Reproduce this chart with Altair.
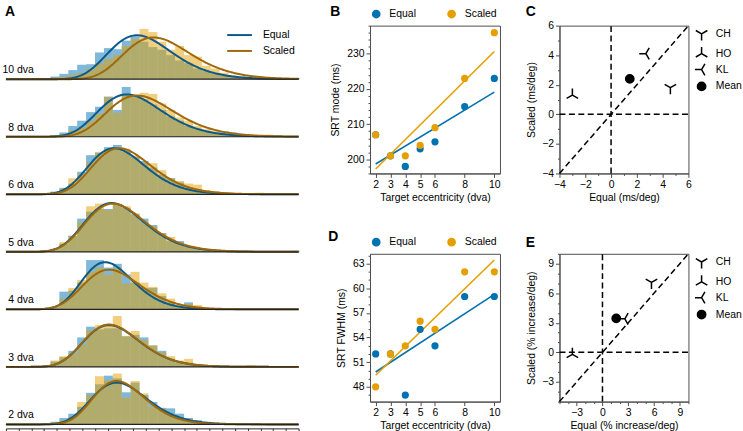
import altair as alt
import numpy as np
import pandas as pd

FONT = "Liberation Sans"
BLUE, ORANGE = "#0072B2", "#E69F00"
BLUE_FIT, ORANGE_FIT = "#0b5a8a", "#a0680c"
FRAME = "#4d4d4d"

# ---- summary values per target eccentricity (dva) ----
ecc_levels = [2, 3, 4, 5, 6, 8, 10]
mode_equal = [207, 201, 198, 203, 205, 215, 223]
mode_scaled = [207, 201, 201, 204, 209, 223, 236]
fwhm_equal = [52, 52, 47, 55, 53, 59, 59]
fwhm_scaled = [48, 52, 53, 56, 55, 62, 62]
# height of each fitted curve's peak (share of a row)
peak_equal = [0.78, 0.78, 0.88, 0.91, 0.86, 0.79, 0.82]
peak_scaled = [0.81, 0.79, 0.74, 0.90, 0.86, 0.77, 0.78]

# ---- per-subject slopes ----
subjects = ["CH", "HO", "KL", "Mean"]
mode_slope_equal = [4.6, -3.0, 2.7, 1.45]
mode_slope_scaled = [1.8, 1.3, 4.1, 2.4]
fwhm_slope_equal = [5.7, -3.5, 2.6, 1.6]
fwhm_slope_scaled = [7.1, -0.2, 3.4, 3.45]

# ---- SRT histograms: 7 ms bins starting at 148 ms (share of a row) ----
BIN_START, BIN_WIDTH = 148, 7
hist_eq_10 = [.02, .05, .10, .17, .27, .28, .50, .58, .56, .72, .80, .70, .60, .55, .45, .35, .30, .20, .15, .10, .07, .04, .03, .02, .01, .01, 0, 0, .02]
hist_sc_10 = [.01, .03, .05, .08, .12, .20, .30, .38, .45, .62, .75, .94, .88, .70, .55, .62, .45, .42, .25, .20, .12, .07, .05, .03, .02, .01, .01, 0, 0]
hist_eq_8 = [0, .03, .08, .20, .30, .46, .56, .75, .50, .93, .78, .70, .60, .50, .38, .30, .20, .15, .10, .08, .10, .08, .02, .01, 0, 0, 0, 0, 0]
hist_sc_8 = [0, .02, .05, .12, .17, .30, .43, .74, .45, .80, .78, .82, .80, .62, .50, .36, .30, .20, .14, .10, .06, .04, .02, .01, .02, .04, .01, 0, 0]
hist_eq_6 = [.02, .05, .12, .20, .42, .73, .78, .88, .92, .80, .70, .62, .50, .37, .30, .22, .12, .08, .06, .05, .03, .02, .01, .02, 0, 0, 0, 0, 0]
hist_sc_6 = [.02, .04, .10, .30, .38, .60, .78, .85, .83, .85, .72, .60, .58, .45, .30, .25, .20, .18, .08, .05, .03, .02, .01, .01, .03, 0, 0, 0, 0]
hist_eq_5 = [.02, .05, .15, .30, .62, .75, .80, .80, .88, .82, .70, .62, .50, .35, .20, .20, .10, .07, .05, .02, .02, .01, .01, 0, 0, 0, 0, 0, .02]
hist_sc_5 = [.02, .06, .18, .30, .55, .85, .90, .78, .90, .85, .72, .55, .48, .35, .28, .15, .10, .06, .05, .03, .02, .01, .01, .02, .01, .01, 0, 0, 0]
hist_eq_4 = [.02, .05, .33, .35, .50, .92, .92, .78, .85, .65, .50, .40, .40, .25, .14, .07, .13, .04, .02, .01, .01, 0, 0, 0, 0, 0, 0, 0, 0]
hist_sc_4 = [.01, .05, .20, .40, .55, .70, .78, .65, .78, .48, .70, .50, .42, .30, .20, .08, .10, .08, .03, .02, .01, 0, 0, 0, 0, 0, 0, 0, 0]
hist_eq_3 = [.02, .10, .18, .30, .55, .75, .70, .72, .72, .57, .60, .55, .40, .30, .15, .08, .08, .04, .03, .02, .01, .01, 0, 0, 0, 0, 0, 0, 0]
hist_sc_3 = [.01, .12, .20, .25, .42, .68, .78, .80, .95, .58, .67, .50, .40, .27, .20, .12, .15, .05, .03, .02, .01, .02, .02, .03, .01, 0, 0, 0, 0]
hist_eq_2 = [0, .05, .12, .20, .33, .59, .75, .91, .86, .60, .78, .55, .42, .31, .30, .20, .12, .08, .05, .03, .02, 0, 0, 0, 0, 0, 0, 0, 0]
hist_sc_2 = [0, .03, .08, .14, .42, .55, .90, .82, .95, .50, .81, .58, .33, .30, .20, .13, .10, .06, .04, .03, .02, .01, 0, 0, 0, 0, 0, 0, 0]

row_order = [10, 8, 6, 5, 4, 3, 2]
hist_equal = {10: hist_eq_10, 8: hist_eq_8, 6: hist_eq_6, 5: hist_eq_5, 4: hist_eq_4, 3: hist_eq_3, 2: hist_eq_2}
hist_scaled = {10: hist_sc_10, 8: hist_sc_8, 6: hist_sc_6, 5: hist_sc_5, 4: hist_sc_4, 3: hist_sc_3, 2: hist_sc_2}

# right-skewed (shifted log-normal) fit described by its mode, FWHM and peak
TAIL = 120.0


def fitted_curve(mode, fwhm, peak, t):
    w = np.arcsinh(fwhm / (2 * TAIL)) / np.sqrt(2 * np.log(2))
    z = np.log((t - mode + TAIL) / TAIL) / w
    return peak * np.exp(-0.5 * z ** 2)


t_grid = np.arange(120, 351, 1.0)
rows = []
for e in row_order:
    k = ecc_levels.index(e)
    for series, hist in (("Equal", hist_equal[e]), ("Scaled", hist_scaled[e])):
        for i, h in enumerate(hist):
            if h > 0:
                rows.append(dict(ecc=e, kind="bar", series=series,
                                 x=BIN_START + i * BIN_WIDTH, x2=BIN_START + (i + 1) * BIN_WIDTH, y=h))
    for series, m, f, p in (("Equal", mode_equal[k], fwhm_equal[k], peak_equal[k]),
                            ("Scaled", mode_scaled[k], fwhm_scaled[k], peak_scaled[k])):
        for t, v in zip(t_grid, fitted_curve(m, f, p, t_grid)):
            rows.append(dict(ecc=e, kind="curve", series=series, x=float(t), y=float(v)))
    rows.append(dict(ecc=e, kind="label", label=f"{e} dva"))
dfA = pd.DataFrame(rows)

LETTER = dict(font=FONT, fontSize=14, fontWeight="bold", align="left", baseline="alphabetic", color="black")

# ---------------- panel A: SRT distributions ----------------
xA = alt.Scale(domain=[120, 350], nice=False, zero=False)
yA = alt.Scale(domain=[0, 1], nice=False)
axisA = alt.Axis(
    values=list(range(120, 351, 10)),
    labelExpr="datum.value % 50 === 0 ? datum.label : ''",
    tickSize={"condition": {"test": "datum.value % 50 === 0", "value": 4}, "value": 2},
    title="Saccadic reaction time (ms)", domainColor="#222", tickColor="#222",
    labelPadding=1, titlePadding=2,
)
base = alt.Chart()
bars_eq = base.transform_filter("datum.kind === 'bar' && datum.series === 'Equal'").mark_bar(
    color=BLUE, opacity=0.5).encode(
    x=alt.X("x:Q", scale=xA, axis=axisA), x2="x2:Q",
    y=alt.Y("y:Q", scale=yA, axis=None), y2=alt.datum(0))
bars_sc = base.transform_filter("datum.kind === 'bar' && datum.series === 'Scaled'").mark_bar(
    color=ORANGE, opacity=0.5).encode(
    x=alt.X("x:Q", scale=xA, axis=axisA), x2="x2:Q",
    y=alt.Y("y:Q", scale=yA, axis=None), y2=alt.datum(0))
curves = base.transform_filter("datum.kind === 'curve'").mark_line(strokeWidth=2).encode(
    x=alt.X("x:Q", scale=xA, axis=axisA), y=alt.Y("y:Q", scale=yA, axis=None),
    color=alt.Color("series:N", scale=alt.Scale(domain=["Equal", "Scaled"], range=[BLUE_FIT, ORANGE_FIT]),
                    legend=alt.Legend(title=None, orient="none", legendX=230, legendY=4,
                                      symbolType="M-3,0L3,0", symbolSize=69, symbolStrokeWidth=2,
                                      labelOffset=18, rowPadding=5)))
baseline = base.transform_filter("datum.kind === 'label'").mark_rule(color="#222", strokeWidth=1.2).encode(
    y=alt.datum(0))
labels = base.transform_filter("datum.kind === 'label'").mark_text(
    align="right", baseline="alphabetic", font=FONT, fontSize=10.5, color="black").encode(
    x=alt.value(28), y=alt.value(48), text="label:N")
letter_a = base.transform_filter("datum.kind === 'label' && datum.ecc === 10").mark_text(
    text="A", **LETTER).encode(x=alt.value(-1), y=alt.value(-10))

panel_a = alt.layer(bars_eq, bars_sc, curves, baseline, labels, letter_a, data=dfA).properties(
    width=295, height=54, view=alt.ViewBackground(stroke=None)
).facet(
    row=alt.Row("ecc:O", sort=row_order, title="", header=alt.Header(labels=False)),
    spacing=0,
)


def panel_letter(letter, dx, dy):
    return alt.Chart(pd.DataFrame({"panel": [letter]})).mark_text(**LETTER).encode(
        text="panel:N", x=alt.value(dx), y=alt.value(dy))


# ---------------- panels B / D: regression on eccentricity ----------------
def eccentricity_panel(eq_vals, sc_vals, ytitle, ydomain, yvalues, major_test, letter, letter_dx, letter_dy):
    df = pd.DataFrame({
        "ecc": ecc_levels * 2,
        "series": ["Equal"] * len(ecc_levels) + ["Scaled"] * len(ecc_levels),
        "value": eq_vals + sc_vals,
    })
    color = alt.Color("series:N", scale=alt.Scale(domain=["Equal", "Scaled"], range=[BLUE, ORANGE]),
                      legend=alt.Legend(title=None, orient="none", direction="horizontal",
                                        legendX=1, legendY=-17, symbolType="circle", symbolSize=53,
                                        symbolOpacity=1, labelOffset=8, columnPadding=28))
    x = alt.X("ecc:Q", scale=alt.Scale(domain=[1.62, 10.38], nice=False, zero=False),
              axis=alt.Axis(values=[2, 3, 4, 5, 6, 8, 10], tickSize=4, labelPadding=2, titlePadding=3,
                            title="Target eccentricity (dva)"))
    y = alt.Y("value:Q", scale=alt.Scale(domain=ydomain, nice=False, zero=False),
              axis=alt.Axis(values=yvalues, labelExpr=f"{major_test} ? datum.label : ''",
                            tickSize={"condition": {"test": major_test, "value": 4}, "value": 2},
                            labelPadding=2, titlePadding=6, title=ytitle))
    fit = alt.Chart(df).transform_regression("ecc", "value", groupby=["series"]).mark_line(
        strokeWidth=1.6).encode(x=x, y=y, color=color)
    pts = alt.Chart(df).mark_circle(size=53, opacity=1).encode(x=x, y=y, color=color)
    return alt.layer(fit, pts, panel_letter(letter, letter_dx, letter_dy)).properties(
        width=131, height=149, view=alt.ViewBackground(stroke=FRAME, strokeWidth=1))


panel_b = eccentricity_panel(mode_equal, mode_scaled, "SRT mode (ms)", [196, 238],
                             list(range(196, 239, 2)), "datum.value % 10 === 0", "B", -40, -10)
panel_d = eccentricity_panel(fwhm_equal, fwhm_scaled, "SRT FWHM (ms)", [46.2, 64.2],
                             list(range(47, 65)), "datum.value % 3 === 0", "D", -42, -13)

# ---------------- panels C / E: Scaled vs Equal slopes ----------------
TRI_DOWN = "M0,0L0,1.6M0,0L-1.386,-0.8M0,0L1.386,-0.8"
TRI_UP = "M0,0L0,-1.6M0,0L-1.386,0.8M0,0L1.386,0.8"
TRI_LEFT = "M0,0L-1.6,0M0,0L0.8,-1.386M0,0L0.8,1.386"


def slope_panel(xs, ys, lo, hi, step, major_test, xtitle, ytitle, letter, letter_dy):
    df = pd.DataFrame({"subject": subjects, "x": xs, "y": ys})
    # zero lines and the identity line, each drawn between the axis limits
    guides = pd.DataFrame({
        "seg": ["h", "h", "v", "v", "d", "d"],
        "x": [lo, hi, 0, 0, lo, hi],
        "y": [0, 0, lo, hi, lo, hi],
    })
    ticks = list(range(lo, hi + 1, step))
    axis_kw = dict(values=ticks, labelExpr=f"{major_test} ? datum.label : ''",
                   tickSize={"condition": {"test": major_test, "value": 4}, "value": 2},
                   labelPadding=2)
    sx = alt.Scale(domain=[lo, hi], nice=False, zero=False)
    x = alt.X("x:Q", scale=sx, axis=alt.Axis(title=xtitle, titlePadding=3, **axis_kw))
    y = alt.Y("y:Q", scale=sx, axis=alt.Axis(title=ytitle, titlePadding=5, **axis_kw))
    lines = alt.Chart(guides).mark_line(color="black", strokeWidth=1.5, strokeDash=[6, 3.5]).encode(
        x=x, y=y, detail="seg:N")
    leg = alt.Legend(title=None, orient="none", legendX=138, legendY=3, symbolSize=70,
                     symbolStrokeColor="black", symbolStrokeWidth=1.5, symbolOpacity=1,
                     labelOffset=9, rowPadding=0)
    pts = alt.Chart(df).mark_point(size=70, strokeWidth=1.5, opacity=1).encode(
        x=x, y=y,
        shape=alt.Shape("subject:N", scale=alt.Scale(domain=subjects,
                                                     range=[TRI_DOWN, TRI_UP, TRI_LEFT, "circle"]),
                        legend=leg),
        fill=alt.Fill("subject:N", scale=alt.Scale(domain=subjects,
                                                   range=["transparent", "transparent", "transparent", "black"]),
                      legend=leg),
        stroke=alt.Stroke("subject:N", scale=alt.Scale(domain=subjects,
                                                       range=["black", "black", "black", "black"]),
                          legend=leg),
    )
    return alt.layer(lines, pts, panel_letter(letter, -34, letter_dy)).properties(
        width=130, height=149, view=alt.ViewBackground(stroke=FRAME, strokeWidth=1))


panel_c = slope_panel(mode_slope_equal, mode_slope_scaled, -4, 6, 1, "datum.value % 2 === 0",
                      "Equal (ms/deg)", "Scaled (ms/deg)", "C", -10)
panel_e = slope_panel(fwhm_slope_equal, fwhm_slope_scaled, -5, 10, 1, "datum.value % 3 === 0",
                      "Equal (% increase/deg)", "Scaled (% increase/deg)", "E", -7)

middle = alt.vconcat(panel_b, panel_d, spacing=25).resolve_scale(color="independent")
right = alt.vconcat(panel_c, panel_e, spacing=31).resolve_scale(
    shape="independent", fill="independent", stroke="independent")
inner = alt.hconcat(middle, right, spacing=24).resolve_scale(
    color="independent", shape="independent", fill="independent", stroke="independent")
chart = alt.hconcat(panel_a, inner, spacing=20).resolve_scale(
    color="independent").properties(
    padding={"left": 2, "top": 2, "right": 0, "bottom": 0}
).configure_axis(
    labelFont=FONT, titleFont=FONT, labelFontSize=10.5, titleFontSize=10.5, titleFontWeight="normal",
    labelColor="black", titleColor="black", domainColor=FRAME, tickColor=FRAME, grid=False,
    labelFlush=False, labelOverlap=False,
).configure_legend(
    labelFont=FONT, labelFontSize=10.5, labelColor="black", padding=0,
).configure_view(stroke=None)

chart.save("out.html", embed_options={"renderer": "svg", "actions": False})
